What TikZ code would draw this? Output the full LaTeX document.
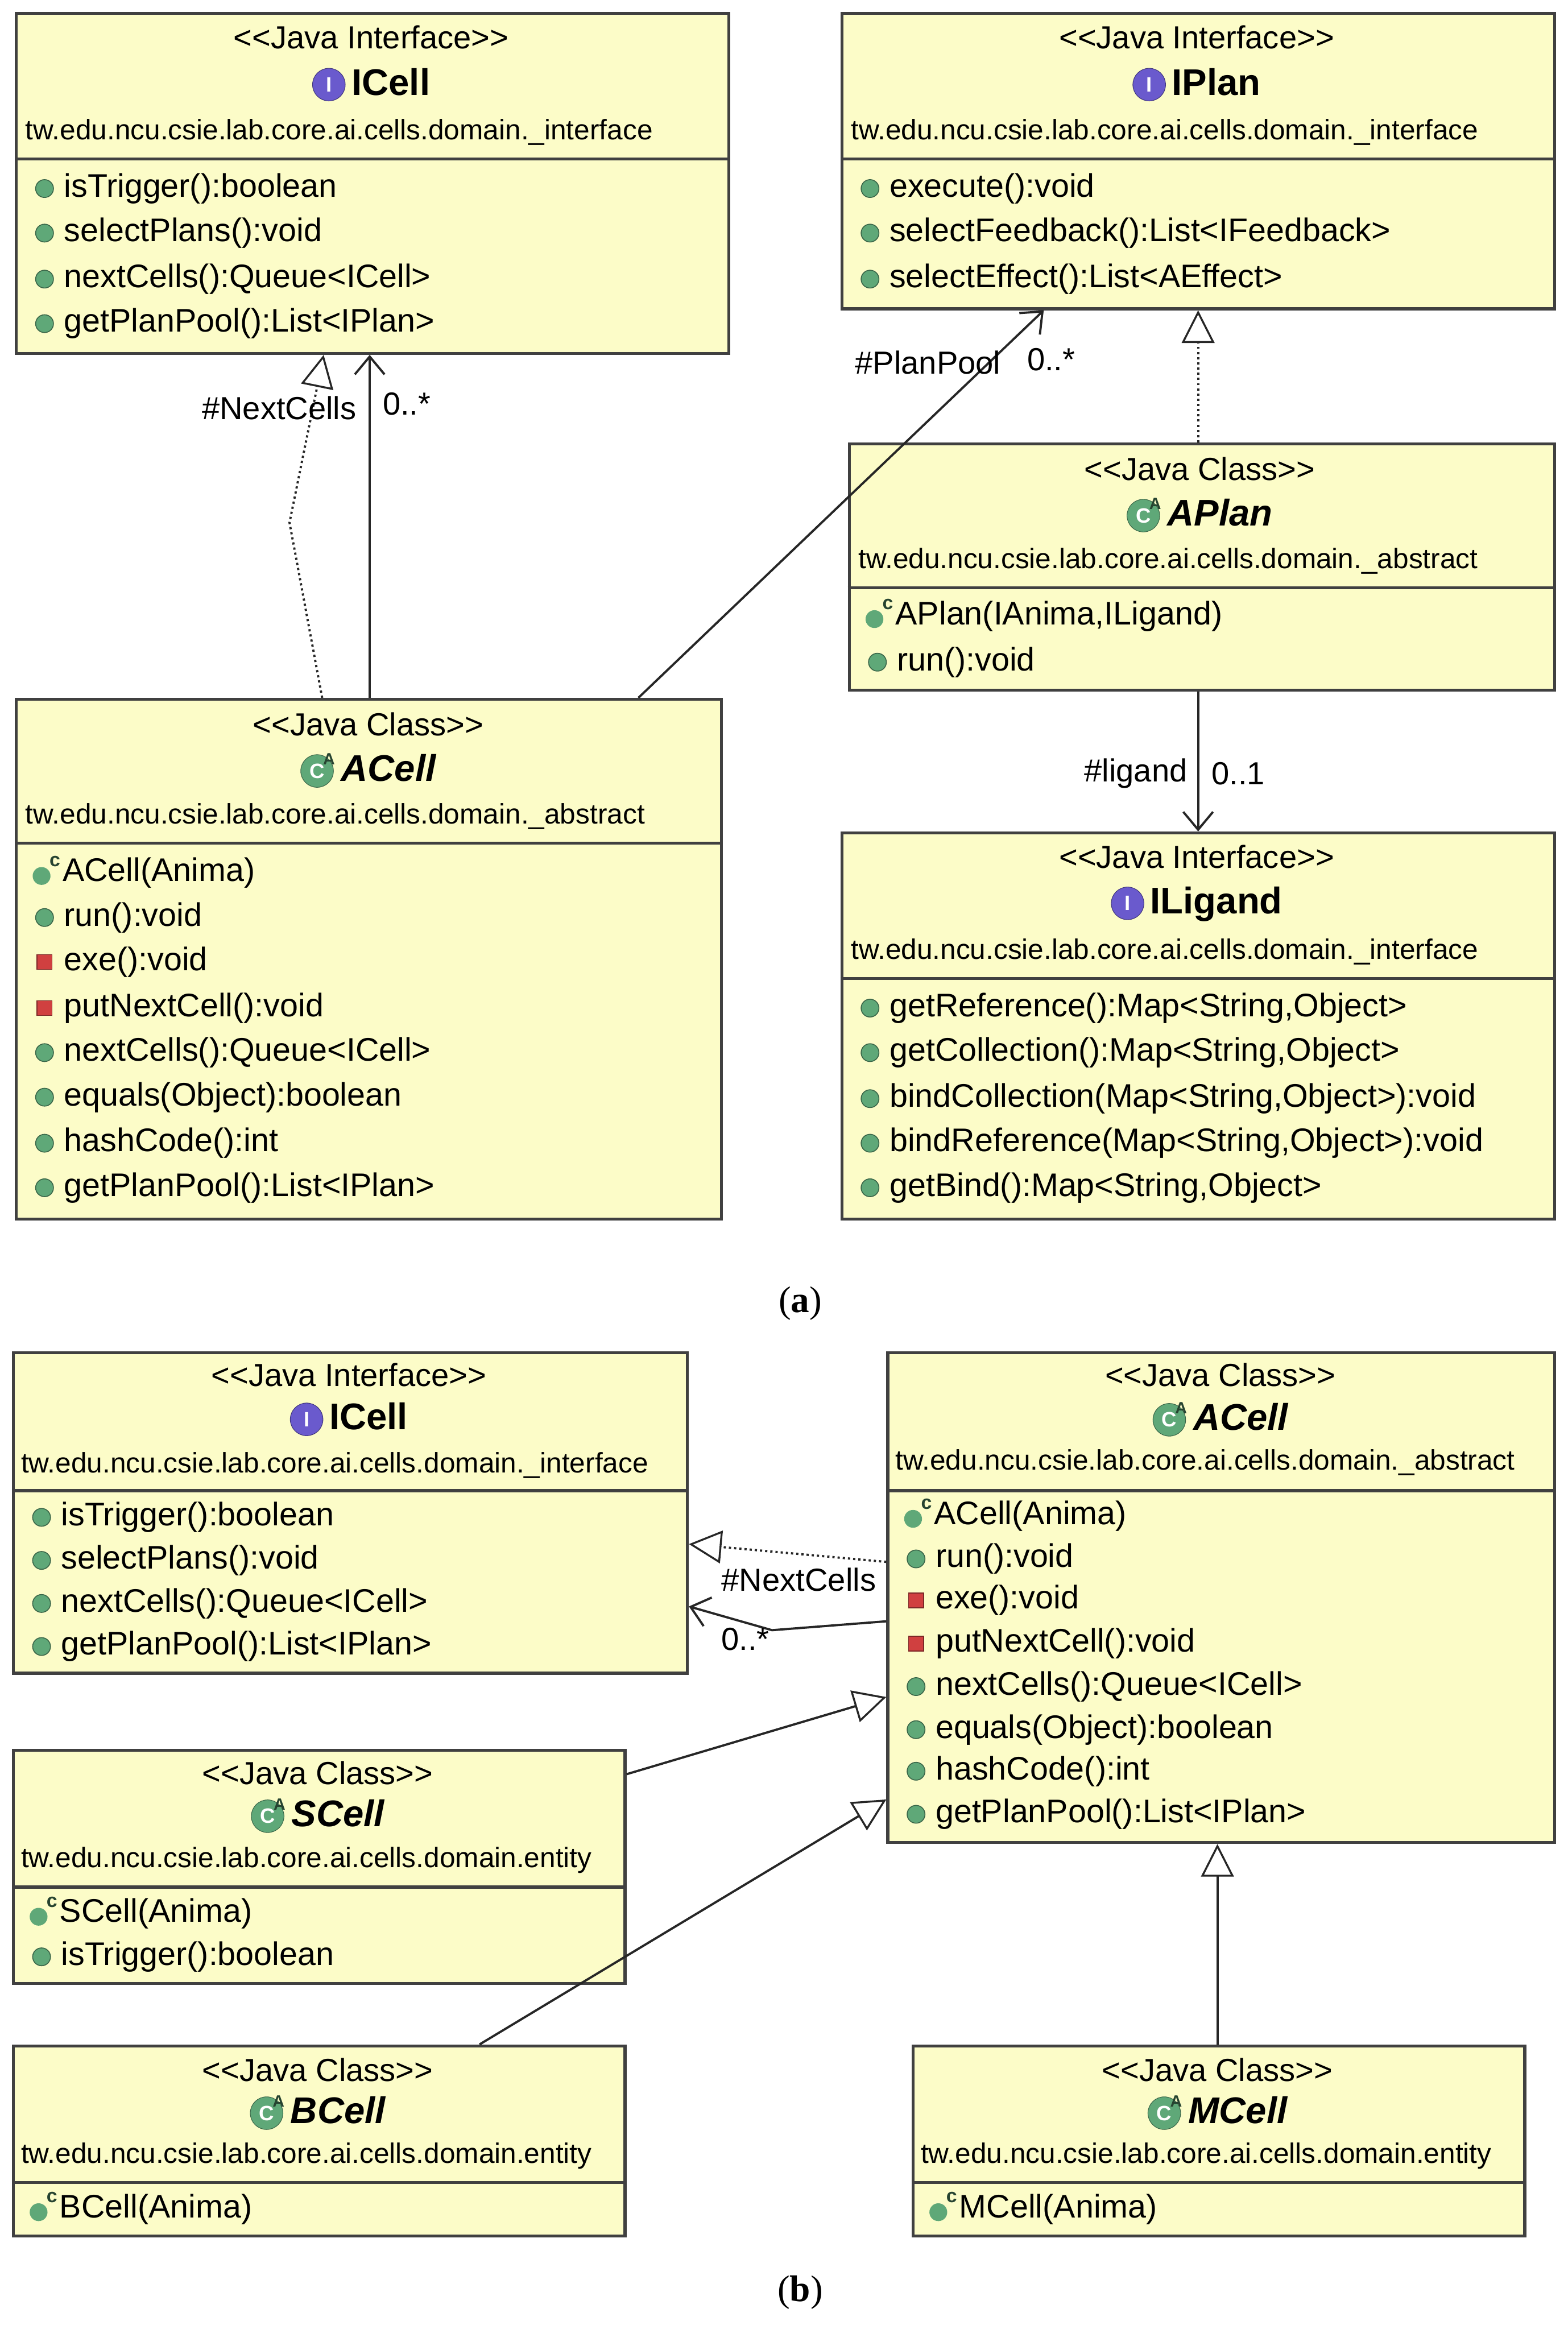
\documentclass[tikz,border=0pt]{standalone}
\usepackage{fontspec}
\setmainfont{Liberation Sans}
\newfontfamily\serf{Liberation Serif}
\usetikzlibrary{arrows.meta,calc}
\definecolor{boxfill}{HTML}{FCFCC8}
\definecolor{boxline}{HTML}{404040}
\definecolor{pubg}{HTML}{5FA878}
\definecolor{privr}{HTML}{D04040}
\definecolor{ivio}{HTML}{6A5ACD}
\newcommand{\iicon}{\tikz[baseline=-7pt]\node[circle,fill=ivio,draw=ivio!60!black,text=white,inner sep=0pt,minimum size=22pt,font=\bfseries\fontsize{14}{14}\selectfont]{I};}
\newcommand{\cicon}{\tikz[baseline=-7pt]{\node[circle,fill=pubg,draw=pubg!60!black,text=white,inner sep=0pt,minimum size=22pt,font=\bfseries\fontsize{14}{14}\selectfont]{C};\node[font=\bfseries\fontsize{11}{11}\selectfont,text=pubg!40!black] at (8pt,8pt){A};}}
\tikzset{
  x=1pt,y=-1pt,
  box/.style={draw=boxline,line width=2pt,fill=boxfill,anchor=north west,inner sep=0pt},
  txt/.style={font=\fontsize{21.5}{21.5}\selectfont,inner sep=0pt},
  pkg/.style={font=\fontsize{19}{19}\selectfont,inner sep=0pt,anchor=west},
  mtxt/.style={font=\fontsize{22}{22}\selectfont,inner sep=0pt,anchor=west},
  ttl/.style={font=\bfseries\fontsize{25}{25}\selectfont,inner sep=0pt},
  lbl/.style={font=\fontsize{21.5}{21.5}\selectfont,inner sep=0pt},
  conn/.style={line width=1.5pt,draw=black!85},
  real/.style={conn,dotted,-{Triangle[open,length=22pt,width=22pt,line width=1.3pt,fill=white]}},
  gen/.style={conn,-{Triangle[open,length=22pt,width=22pt,line width=1.3pt,fill=white]}},
  assoc/.style={conn,-{Straight Barb[length=12pt,width=20pt,line width=1.5pt]}},
}
\newcommand{\umlbox}[6]{%
  \node[box,minimum width=#4-#2,minimum height=#5-#3] (#1) at (#2,#3) {};
  \draw[boxline,line width=2pt] (#2,#6) -- (#4,#6);}
\newcommand{\pub}[3]{\fill[pubg] (#1+20,#2) circle (6pt); \draw[pubg!60!black,line width=0.6pt] (#1+20,#2) circle (6pt); \node[mtxt] at (#1+33,#2) {#3};}
\newcommand{\prv}[3]{\fill[privr] (#1+15,#2-5) rectangle (#1+25,#2+5); \draw[privr!60!black,line width=0.6pt] (#1+15,#2-5) rectangle (#1+25,#2+5); \node[mtxt] at (#1+33,#2) {#3};}
\newcommand{\ctr}[3]{\fill[pubg] (#1+18,#2+2) circle (6pt); \node[font=\bfseries\fontsize{13}{13}\selectfont,text=pubg!40!black] at (#1+27,#2-8) {c}; \node[mtxt] at (#1+32,#2) {#3};}
\begin{document}
\begin{tikzpicture}
\useasboundingbox[fill=white] (0,0) rectangle (1056,1566);

% ===== (a) =====
\umlbox{icellA}{10}{8}{490}{237}{107}
\node[txt] at (250,25) {<{}<Java Interface>{}>};
\node[ttl] at (250,57) {\iicon\,ICell};
\node[pkg] at (17,89) {tw.edu.ncu.csie.lab.core.ai.cells.domain.\_interface};
\pub{10}{127}{isTrigger():boolean}
\pub{10}{157}{selectPlans():void}
\pub{10}{188}{nextCells():Queue<ICell>}
\pub{10}{218}{getPlanPool():List<IPlan>}

\umlbox{iplanA}{566}{8}{1046}{207}{107}
\node[txt] at (806,25) {<{}<Java Interface>{}>};
\node[ttl] at (806,57) {\iicon\,IPlan};
\node[pkg] at (573,89) {tw.edu.ncu.csie.lab.core.ai.cells.domain.\_interface};
\pub{566}{127}{execute():void}
\pub{566}{157}{selectFeedback():List<IFeedback>}
\pub{566}{188}{selectEffect():List<AEffect>}

\umlbox{aplanA}{571}{298}{1046}{464}{396}
\node[txt] at (808,316) {<{}<Java Class>{}>};
\node[ttl] at (808,347) {\cicon\,\itshape APlan};
\node[pkg] at (578,378) {tw.edu.ncu.csie.lab.core.ai.cells.domain.\_abstract};
\ctr{571}{415}{APlan(IAnima,ILigand)}
\pub{571}{446}{run():void}

\umlbox{acellA}{10}{470}{485}{820}{568}
\node[txt] at (248,488) {<{}<Java Class>{}>};
\node[ttl] at (248,519) {\cicon\,\itshape ACell};
\node[pkg] at (17,550) {tw.edu.ncu.csie.lab.core.ai.cells.domain.\_abstract};
\ctr{10}{588}{ACell(Anima)}
\pub{10}{618}{run():void}
\prv{10}{648}{exe():void}
\prv{10}{679}{putNextCell():void}
\pub{10}{709}{nextCells():Queue<ICell>}
\pub{10}{739}{equals(Object):boolean}
\pub{10}{770}{hashCode():int}
\pub{10}{800}{getPlanPool():List<IPlan>}

\umlbox{iligA}{566}{560}{1046}{820}{659}
\node[txt] at (806,577) {<{}<Java Interface>{}>};
\node[ttl] at (806,609) {\iicon\,ILigand};
\node[pkg] at (573,641) {tw.edu.ncu.csie.lab.core.ai.cells.domain.\_interface};
\pub{566}{679}{getReference():Map<String,Object>}
\pub{566}{709}{getCollection():Map<String,Object>}
\pub{566}{740}{bindCollection(Map<String,Object>):void}
\pub{566}{770}{bindReference(Map<String,Object>):void}
\pub{566}{800}{getBind():Map<String,Object>}

\node[font=\serf\fontsize{25}{25}\selectfont] (la) at (539,878) {(\textbf{a})};

% connectors (a)
\coordinate (bendA) at (195,352);
\draw[real] ([xshift=207pt]acellA.north west) -- (bendA) -- ([xshift=208pt]icellA.south west);
\draw[assoc] ([xshift=239pt]acellA.north west) -- ([xshift=239pt]icellA.south west);
\node[lbl] at (188,275) {\#NextCells};
\node[lbl] at (274,272) {0..*};
\draw[assoc] ([xshift=420pt]acellA.north west) -- ([xshift=137pt]iplanA.south west);
\node[lbl] at (625,244) {\#PlanPool};
\node[lbl] at (708,242) {0..*};
\draw[real] ([xshift=236pt]aplanA.north west) -- ([xshift=241pt]iplanA.south west);
\draw[assoc] ([xshift=236pt]aplanA.south west) -- ([xshift=241pt]iligA.north west);
\node[lbl] at (765,521) {\#ligand};
\node[lbl] at (834,521) {0..1};

% ===== (b) =====
\umlbox{icellB}{8}{910}{462}{1126}{1004}
\node[txt] at (235,926) {<{}<Java Interface>{}>};
\node[ttl] at (235,956) {\iicon\,ICell};
\node[pkg] at (14,987) {tw.edu.ncu.csie.lab.core.ai.cells.domain.\_interface};
\pub{8}{1022}{isTrigger():boolean}
\pub{8}{1051}{selectPlans():void}
\pub{8}{1080}{nextCells():Queue<ICell>}
\pub{8}{1109}{getPlanPool():List<IPlan>}

\umlbox{acellB}{597}{910}{1046}{1240}{1004}
\node[txt] at (822,926) {<{}<Java Class>{}>};
\node[ttl] at (822,956) {\cicon\,\itshape ACell};
\node[pkg] at (603,985) {tw.edu.ncu.csie.lab.core.ai.cells.domain.\_abstract};
\ctr{597}{1021}{ACell(Anima)}
\pub{597}{1050}{run():void}
\prv{597}{1078}{exe():void}
\prv{597}{1107}{putNextCell():void}
\pub{597}{1136}{nextCells():Queue<ICell>}
\pub{597}{1165}{equals(Object):boolean}
\pub{597}{1193}{hashCode():int}
\pub{597}{1222}{getPlanPool():List<IPlan>}

\umlbox{scellB}{8}{1178}{420}{1335}{1271}
\node[txt] at (214,1194) {<{}<Java Class>{}>};
\node[ttl] at (214,1223) {\cicon\,\itshape SCell};
\node[pkg] at (14,1253) {tw.edu.ncu.csie.lab.core.ai.cells.domain.entity};
\ctr{8}{1289}{SCell(Anima)}
\pub{8}{1318}{isTrigger():boolean}

\umlbox{bcellB}{8}{1377}{420}{1505}{1470}
\node[txt] at (214,1394) {<{}<Java Class>{}>};
\node[ttl] at (214,1423) {\cicon\,\itshape BCell};
\node[pkg] at (14,1452) {tw.edu.ncu.csie.lab.core.ai.cells.domain.entity};
\ctr{8}{1488}{BCell(Anima)}

\umlbox{mcellB}{614}{1377}{1026}{1505}{1470}
\node[txt] at (820,1394) {<{}<Java Class>{}>};
\node[ttl] at (820,1423) {\cicon\,\itshape MCell};
\node[pkg] at (620,1452) {tw.edu.ncu.csie.lab.core.ai.cells.domain.entity};
\ctr{614}{1488}{MCell(Anima)}

\node[font=\serf\fontsize{25}{25}\selectfont] (lb) at (539,1544) {(\textbf{b})};

% connectors (b)
\draw[real] ([yshift=-142pt]acellB.north west) -- ([yshift=-130pt]icellB.north east);
\node[lbl] at (538,1064) {\#NextCells};
\coordinate (bendB) at (520,1098);
\draw[assoc] ([yshift=-182pt]acellB.north west) -- (bendB) -- ([yshift=-172pt]icellB.north east);
\node[lbl] at (502,1104) {0..*};
\draw[gen] ([yshift=-17pt]scellB.north east) -- ([yshift=-233pt]acellB.north west);
\draw[gen] ([xshift=315pt]bcellB.north west) -- ([yshift=-302pt]acellB.north west);
\draw[gen] ([xshift=206pt]mcellB.north west) -- ([xshift=223pt]acellB.south west);
\end{tikzpicture}
\end{document}
